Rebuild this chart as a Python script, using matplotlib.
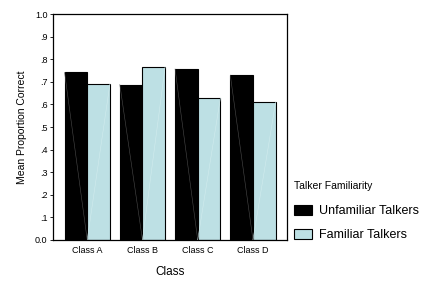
import matplotlib
matplotlib.use("Agg")
import matplotlib.pyplot as plt
import numpy as np

plt.rcParams['font.family'] = ['Liberation Sans', 'DejaVu Sans']

# data
classes = ['Class A', 'Class B', 'Class C', 'Class D']
unfamiliar = [0.742, 0.688, 0.757, 0.730]
familiar = [0.690, 0.768, 0.628, 0.610]
yticks = [0.0, 0.1, 0.2, 0.3, 0.4, 0.5, 0.6, 0.7, 0.8, 0.9, 1.0]
ytick_labels = ['0.0', '.1', '.2', '.3', '.4', '.5', '.6', '.7', '.8', '.9', '1.0']

fig = plt.figure(figsize=(4.29, 2.83), dpi=100)
ax = fig.add_axes([0.1235, 0.152, 0.546, 0.798])

x = np.arange(len(classes))
w = 0.41
b1 = ax.bar(x - w/2, unfamiliar, w, color='black', edgecolor='black', linewidth=0.8,
            label='Unfamiliar Talkers')
b2 = ax.bar(x + w/2, familiar, w, color='#bde0e4', edgecolor='black', linewidth=0.8,
            label='Familiar Talkers')

# faint diagonal artifacts inside the bars
for p in b1:
    x0, y0 = p.get_x(), p.get_height()
    ax.plot([x0, x0 + p.get_width()], [y0, 0], color='#4a4a4a', lw=0.4, zorder=3)
for p in b2:
    x0, y0 = p.get_x(), p.get_height()
    ax.plot([x0, x0 + p.get_width()], [0, y0], color='#d2ecee', lw=0.4, zorder=3)

ax.set_xlim(-0.62, 3.62)
ax.set_ylim(0, 1.0)
ax.set_yticks(yticks)
ax.set_yticklabels(ytick_labels, fontsize=6.5)
ax.set_xticks(x)
ax.set_xticklabels(classes, fontsize=6.5)
ax.tick_params(length=2, width=0.6, pad=2)
ax.tick_params(axis='x', length=0, pad=4)
for s in ax.spines.values():
    s.set_linewidth(0.9)

ax.set_ylabel('Mean Proportion Correct', fontsize=7.5, labelpad=6)
ax.set_xlabel('Class', fontsize=8.5, labelpad=8)

leg = fig.legend(handles=[b1, b2], title='Talker Familiarity', loc='upper left',
                 bbox_to_anchor=(0.665, 0.39), frameon=False, fontsize=9,
                 title_fontsize=7.5, handlelength=1.4, handleheight=0.8,
                 handletextpad=0.6, labelspacing=0.95, borderpad=0.2)
leg._legend_box.align = 'left'
leg._legend_box.sep = 10

fig.savefig('out.png', dpi=100)
